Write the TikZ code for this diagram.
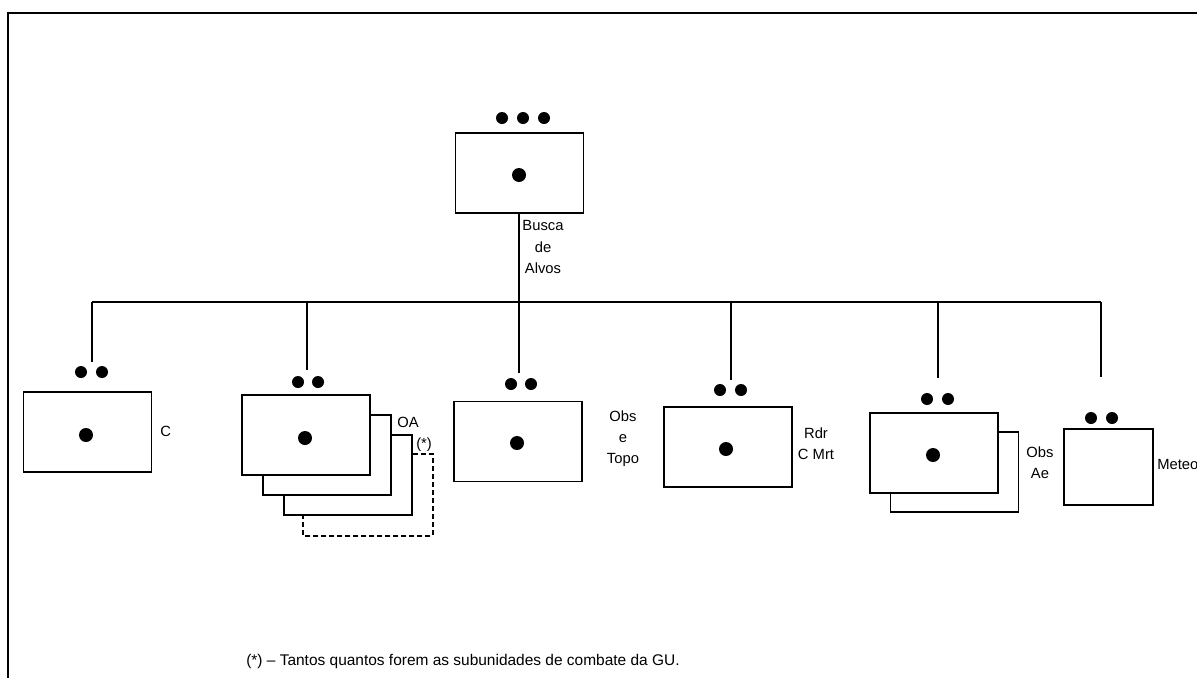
\documentclass[tikz,border=0pt]{standalone}
\usepackage{fontspec}
\setmainfont{Liberation Sans}
\usetikzlibrary{positioning}

\begin{document}
\begin{tikzpicture}[x=0.025cm,y=-0.025cm,
  unitbox/.style={draw,line width=1pt,fill=white,minimum width=3.2cm,minimum height=2cm,inner sep=0pt},
  dot/.style={circle,fill=black,inner sep=0pt,minimum size=3mm},
  bigdot/.style={circle,fill=black,inner sep=0pt,minimum size=3.5mm},
  lbl/.style={font=\fontsize{10.5}{15}\selectfont,align=center,inner sep=0pt},
  link/.style={line width=1pt}]
\useasboundingbox (0,0) rectangle (1197,678);
\clip (0,0) rectangle (1197,678);
\draw[line width=1.4pt] (1197,13) -- (8,13) -- (8,678);

% top
\node[unitbox] (top) at (519.5,173) {};
\node[bigdot] (topc) at (519,175) {};
\node[dot] (topd1) at (502,118) {}; \node[dot] (topd2) at (523,118) {}; \node[dot] (topd3) at (544,118) {};
\node[lbl] (toplbl) at (543,247) {Busca\\de\\Alvos};

% units
\node[unitbox] (c) at (87.5,432) {};
\node[unitbox,draw=none,fill=none] (oa4) at (368,495) {};
\node[unitbox] (oa3) at (348,475) {};
\node[unitbox] (oa2) at (327,455) {};
\node[unitbox] (oa) at (306,435) {};
\node[unitbox] (ot) at (518,441.5) {};
\node[unitbox] (rdr) at (728,447) {};
\node[unitbox] (ae2) at (954.5,472) {};
\node[unitbox] (ae) at (934,453) {};
\node[unitbox,minimum width=2.225cm,minimum height=1.9cm] (met) at (1108.5,467) {};
\draw[line width=1.4pt,dash pattern=on 1.2mm off 0.8mm] (oa3.north east |- oa4.north) -- (oa4.north east) -- (oa4.south east) -- (oa4.south west) -- (oa4.south west |- oa3.south);

\node[bigdot] (cc) at (86,435) {};
\node[bigdot] (oac) at (305,438) {};
\node[bigdot] (otc) at (517,443) {};
\node[bigdot] (rdrc) at (726,449) {};
\node[bigdot] (aec) at (933,455) {};

\node[dot] (cd1) at (81,372) {}; \node[dot] (cd2) at (102,372) {};
\node[dot] (oad1) at (298,382) {}; \node[dot] (oad2) at (318,382) {};
\node[dot] (otd1) at (511,384) {}; \node[dot] (otd2) at (531,384) {};
\node[dot] (rdrd1) at (720,390) {}; \node[dot] (rdrd2) at (741,390) {};
\node[dot] (aed1) at (927,399) {}; \node[dot] (aed2) at (948,399) {};
\node[dot] (metd1) at (1091,418) {}; \node[dot] (metd2) at (1112,418) {};

% labels
\node[lbl,anchor=west] (clbl) at (160,431) {C};
\node[lbl,anchor=west] (oalbl) at (397,422) {OA};
\node[lbl,anchor=west] (oastar) at (416,445) {(*)};
\node[lbl] (otlbl) at (623,439) {Obs\\e\\Topo};
\node[lbl] (rdrlbl) at (816,444) {Rdr\\C Mrt};
\node[lbl] (aelbl) at (1040,463) {Obs\\Ae};
\node[lbl,anchor=west] (metlbl) at (1157,464) {Meteo};
\node[lbl,anchor=west,font=\fontsize{11}{13}\selectfont] (note) at (246,661) {(*) -- Tantos quantos forem as subunidades de combate da GU.};

% links
\coordinate (busL) at (92,302);
\coordinate (busR) at (1101,302);
\coordinate (cend) at (92,362);
\coordinate (oaend) at (307,370);
\coordinate (otend) at (519,373);
\coordinate (rdrend) at (731,380);
\coordinate (aeend) at (938,378);
\coordinate (metend) at (1101,377);
\draw[link] (busL) -- (busR);
\draw[link] (top.south -| otend) -- (otend);
\foreach \n in {cend,oaend,rdrend,aeend,metend} \draw[link] (\n |- busL) -- (\n);
\end{tikzpicture}
\end{document}
